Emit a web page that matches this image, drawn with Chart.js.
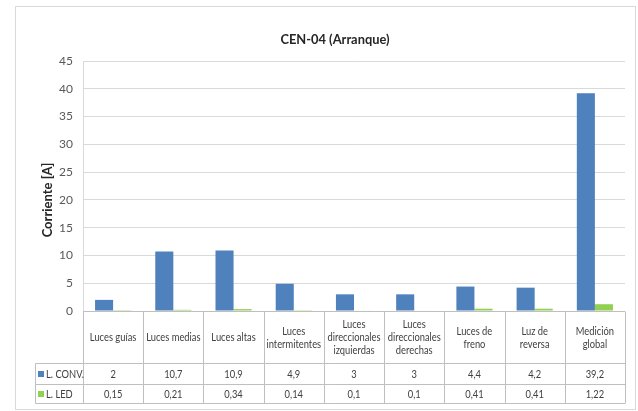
<!DOCTYPE html>
<html>
<head>
<meta charset="utf-8">
<title>CEN-04 (Arranque)</title>
<script src="https://cdn.jsdelivr.net/npm/chart.js@4.4.1/dist/chart.umd.min.js"></script>
<style>
  html, body { margin: 0; padding: 0; background: #fff; }
  #wrap { width: 638px; height: 411px; }
</style>
</head>
<body>
<div id="wrap"><canvas id="chartCen04" width="638" height="411"></canvas></div>
<script>
// Datos
const categorias = [
  ["Luces guías"],
  ["Luces medias"],
  ["Luces altas"],
  ["Luces", "intermitentes"],
  ["Luces", "direccionales", "izquierdas"],
  ["Luces", "direccionales", "derechas"],
  ["Luces de", "freno"],
  ["Luz de", "reversa"],
  ["Medición", "global"]
];
const serieConv = [2, 10.7, 10.9, 4.9, 3, 3, 4.4, 4.2, 39.2];
const serieLed = [0.15, 0.21, 0.34, 0.14, 0.1, 0.1, 0.41, 0.41, 1.22];
const nombresSeries = ["L. CONV.", "L. LED"];
const ticksY = [0, 5, 10, 15, 20, 25, 30, 35, 40, 45];
const titulo = "CEN-04 (Arranque)";
const tituloEje = "Corriente [A]";

const colorConv = "#4F81BD";
const colorLed = "#92D050";
const fuente = "Lato, 'Liberation Sans', sans-serif";

// Formato con coma decimal
function conComa(v) {
  return String(v).replace(".", ",");
}

// Texto algo estrecho, como el original
function textoEstrecho(ctx, t, x, y, esc) {
  ctx.save();
  ctx.translate(x, y);
  ctx.scale(esc, 1);
  ctx.fillText(t, 0, 0);
  ctx.restore();
}

// Plugin: marco, título, título de eje y tabla de datos
const tablaDatos = {
  id: "tablaDatos",
  beforeDraw(chart) {
    const ctx = chart.ctx;
    ctx.save();
    ctx.strokeStyle = "#d9d9d9";
    ctx.lineWidth = 1;
    ctx.strokeRect(15.5, 6.5, 620, 403);
    ctx.restore();
  },
  afterDraw(chart) {
    const ctx = chart.ctx;
    const x = chart.scales.x;
    const area = chart.chartArea;
    const ancho = (x.right - x.left) / categorias.length;
    const yCero = Math.round(area.bottom) + 0.5;
    const yFila1 = 363.5, yFila2 = 384.5, yFin = 403.5;
    const xLeyenda = 35.5;

    ctx.save();
    // Título
    ctx.fillStyle = "#262626";
    ctx.font = "bold 14px " + fuente;
    ctx.textAlign = "center";
    ctx.textBaseline = "middle";
    textoEstrecho(ctx, titulo, 335, 39, 0.92);

    // Título del eje Y
    ctx.save();
    ctx.translate(48, 200);
    ctx.rotate(-Math.PI / 2);
    ctx.font = "bold 13px " + fuente;
    ctx.fillText(tituloEje, 0, 0);
    ctx.restore();

    // Líneas de la tabla
    ctx.strokeStyle = "#bfbfbf";
    ctx.lineWidth = 1;
    ctx.beginPath();
    ctx.moveTo(x.left, yCero); ctx.lineTo(x.right, yCero);
    ctx.moveTo(xLeyenda, yFila1); ctx.lineTo(x.right, yFila1);
    ctx.moveTo(xLeyenda, yFila2); ctx.lineTo(x.right, yFila2);
    ctx.moveTo(xLeyenda, yFin); ctx.lineTo(x.right, yFin);
    ctx.moveTo(xLeyenda, yFila1); ctx.lineTo(xLeyenda, yFin);
    for (let i = 0; i <= categorias.length; i++) {
      const xb = Math.round(x.left + i * ancho) + 0.5;
      ctx.moveTo(xb, yCero); ctx.lineTo(xb, yFin);
    }
    ctx.stroke();

    // Textos de categorías y valores
    ctx.fillStyle = "#404040";
    ctx.font = "11px " + fuente;
    const yCentroCab = (yCero + yFila1) / 2;
    categorias.forEach((lineas, i) => {
      const xc = x.getPixelForValue(i);
      const alto = 13;
      const y0 = yCentroCab - (lineas.length - 1) * alto / 2;
      lineas.forEach((t, k) => textoEstrecho(ctx, t, xc, y0 + k * alto, 0.85));
      textoEstrecho(ctx, conComa(serieConv[i]), xc, (yFila1 + yFila2) / 2, 0.85);
      textoEstrecho(ctx, conComa(serieLed[i]), xc, (yFila2 + yFin) / 2, 0.85);
    });

    // Claves de leyenda
    ctx.textAlign = "left";
    const filas = [[colorConv, (yFila1 + yFila2) / 2], [colorLed, (yFila2 + yFin) / 2]];
    filas.forEach(([color, yc], k) => {
      ctx.fillStyle = color;
      ctx.fillRect(38, yc - 3, 6, 6);
      ctx.fillStyle = "#404040";
      textoEstrecho(ctx, nombresSeries[k], 46, yc, 0.85);
    });
    ctx.restore();
  }
};

new Chart(document.getElementById("chartCen04"), {
  type: "bar",
  data: {
    labels: categorias.map(c => c.join(" ")),
    datasets: [
      {
        label: nombresSeries[0],
        data: serieConv,
        backgroundColor: colorConv,
        categoryPercentage: 0.6,
        barPercentage: 1.0
      },
      {
        label: nombresSeries[1],
        data: serieLed,
        backgroundColor: colorLed,
        categoryPercentage: 0.6,
        barPercentage: 1.0
      }
    ]
  },
  options: {
    responsive: false,
    animation: false,
    layout: { padding: { top: 61, bottom: 100, right: 13, left: 0 } },
    plugins: {
      legend: { display: false },
      title: { display: false },
      tooltip: { enabled: false }
    },
    scales: {
      x: { display: false },
      y: {
        min: ticksY[0],
        max: ticksY[ticksY.length - 1],
        afterFit(scale) { scale.width = 83; },
        afterBuildTicks(scale) { scale.ticks = ticksY.map(v => ({ value: v })); },
        grid: { color: "#d9d9d9", drawTicks: false },
        border: { display: true, color: "#d9d9d9" },
        ticks: {
          padding: 10,
          color: "#595959",
          font: { family: fuente, size: 12 }
        }
      }
    }
  },
  plugins: [tablaDatos]
});
</script>
</body>
</html>
